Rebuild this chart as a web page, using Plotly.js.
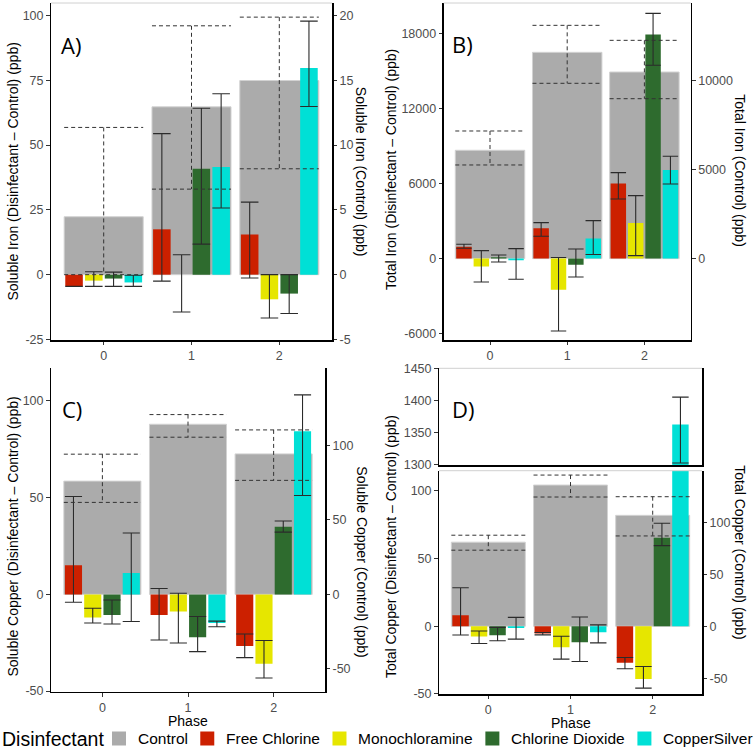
<!DOCTYPE html>
<html><head><meta charset="utf-8">
<script src="https://cdn.plot.ly/plotly-3.0.1.min.js"></script>
<style>html,body{margin:0;padding:0;background:#fff}#chart{width:756px;height:750px}</style>
</head><body><div id="chart"></div>
<script>
// ---------------- DATA ----------------
const phases = [0, 1, 2];
const phaseLabels = ['0', '1', '2'];
const legendTitle = 'Disinfectant';
const controlName = 'Control';
const disinfectants = ['Free Chlorine', 'Monochloramine', 'Chlorine Dioxide', 'CopperSilver'];

// A) Soluble iron — control (ppb) with lower/upper error
const feSolCtrl   = [4.47, 12.95, 14.98];
const feSolCtrlLo = [0.0, 6.6, 8.17];
const feSolCtrlHi = [11.36, 19.2, 19.87];
// A) Soluble iron — disinfectant minus control
const feSolFC   = [-4.5, 17.5, 15.5],  feSolFCLo = [-4.5, -2.5, -1.3],  feSolFCHi = [-4.5, 54.4, 28.0];
const feSolMC   = [-2.3, 0.0, -9.5],   feSolMCLo = [-4.5, -14.4, -16.7], feSolMCHi = [1.1, 7.7, 0.0];
const feSolCD   = [-1.5, 40.9, -7.3],  feSolCDLo = [-4.5, 11.8, -15.0], feSolCDHi = [1.0, 64.2, 0.0];
const feSolCS   = [-3.0, 41.5, 79.7],  feSolCSLo = [-4.5, 25.7, 64.9],  feSolCSHi = [-0.2, 69.8, 97.8];

// B) Total iron — control
const feTotCtrl   = [6076, 11570, 10465];
const feTotCtrlLo = [5252, 9832, 8969];
const feTotCtrlHi = [7158, 13083, 12242];
// B) Total iron — disinfectant minus control
const feTotFC = [960, 2430, 6010],    feTotFCLo = [830, 1790, 4780],   feTotFCHi = [1150, 2885, 6890];
const feTotMC = [-640, -2500, 2860],  feTotMCLo = [-1870, -5800, 240], feTotMCHi = [640, 90, 5050];
const feTotCD = [100, -490, 17960],   feTotCDLo = [-267, -1470, 15490], feTotCDHi = [294, 775, 19650];
const feTotCS = [-140, 1620, 7100],   feTotCSLo = [-1650, 330, 5980],  feTotCSHi = [801, 3045, 8200];

// C) Soluble copper — control
const cuSolCtrl   = [76.1, 114.3, 94.4];
const cuSolCtrlLo = [61.8, 105.6, 76.6];
const cuSolCtrlHi = [94.2, 120.8, 110.5];
// C) Soluble copper — disinfectant minus control
const cuSolFC = [15.1, -10.6, -26.7], cuSolFCLo = [-4.1, -23.6, -32.7], cuSolFCHi = [50.6, 3.0, -20.5];
const cuSolMC = [-11.9, -8.9, -35.8], cuSolMCLo = [-14.8, -25.1, -43.2], cuSolMCHi = [-7.2, 0.6, -23.8];
const cuSolCD = [-10.7, -22.2, 34.9], cuSolCDLo = [-15.3, -29.6, 32.2], cuSolCDHi = [-2.9, -11.4, 37.9];
const cuSolCS = [11.0, -14.8, 84.3],  cuSolCSLo = [-14.0, -16.7, 51.1], cuSolCSHi = [31.7, -13.8, 103.1];

// D) Total copper — control
const cuTotCtrl   = [80.8, 135.7, 106.6];
const cuTotCtrlLo = [73.1, 124.2, 86.8];
const cuTotCtrlHi = [87.5, 145.3, 124.5];
// D) Total copper — disinfectant minus control
const cuTotFC = [8.1, -5.3, -27.0],   cuTotFCLo = [-6.5, -6.4, -31.4],  cuTotFCHi = [28.5, -4.6, -23.1];
const cuTotMC = [-7.5, -15.5, -39.0], cuTotMCLo = [-12.8, -24.3, -45.7], cuTotMCHi = [-3.5, -7.4, -29.7];
const cuTotCD = [-6.7, -11.8, 65.5],  cuTotCDLo = [-10.7, -26.0, 59.6], cuTotCDHi = [-0.8, 6.9, 76.1];
const cuTotCS = [-1.3, -4.4, 1362.9], cuTotCSLo = [-9.5, -12.3, 1303],  cuTotCSHi = [6.6, 1.0, 1405.7];

// ---------------- STYLE / LAYOUT ----------------
const W = 756, H = 750;
const FONT = 'Liberation Sans, Arial, sans-serif';
const colors = ['#CC2000', '#E6E600', '#2E6B2E', '#00E0D6'];
const ctrlColor = '#ABABAB';
const errColor = '#2b2b2b';

function px2x(a, b) { return [a / W, b / W]; }
function px2y(top, bottom) { return [1 - bottom / H, 1 - top / H]; }
function aid(l, n) { return n === 1 ? l : l + n; }
function lkey(l, n) { return n === 1 ? l + 'axis' : l + 'axis' + n; }

const panels = [
  { letter: 'A)', xpx: [51, 332], ypx: [3, 340], range: [-25.2, 104.8], k: 0.2,
    dTicks: [-25, 0, 25, 50, 75, 100], cTicks: [-5, 0, 5, 10, 15, 20],
    ctrl: [feSolCtrl, feSolCtrlLo, feSolCtrlHi],
    series: [[feSolFC, feSolFCLo, feSolFCHi], [feSolMC, feSolMCLo, feSolMCHi], [feSolCD, feSolCDLo, feSolCDHi], [feSolCS, feSolCSLo, feSolCSHi]],
    left: 'Soluble Iron (Disinfectant – Control) (ppb)', right: 'Soluble Iron (Control) (ppb)',
    leftPos: [12.5, 172], rightPos: [361.7, 171.5], letterPos: [59, 44.5], topLine: true, xTitle: null },
  { letter: 'B)', xpx: [443.7, 690.7], ypx: [3, 340], range: [-6520, 20480], k: 0.7,
    dTicks: [-6000, 0, 6000, 12000, 18000], cTicks: [0, 5000, 10000],
    ctrl: [feTotCtrl, feTotCtrlLo, feTotCtrlHi],
    series: [[feTotFC, feTotFCLo, feTotFCHi], [feTotMC, feTotMCLo, feTotMCHi], [feTotCD, feTotCDLo, feTotCDHi], [feTotCS, feTotCSLo, feTotCSHi]],
    left: 'Total Iron (Disinfectant – Control) (ppb)', right: 'Total Iron (Control) (ppb)',
    leftPos: [391, 170], rightPos: [739.7, 171], letterPos: [449.7, 44], topLine: true, xTitle: null },
  { letter: 'C)', xpx: [51, 325], ypx: [368, 691.7], range: [-50.3, 117], k: 1.3,
    dTicks: [-50, 0, 50, 100], cTicks: [-50, 0, 50, 100],
    ctrl: [cuSolCtrl, cuSolCtrlLo, cuSolCtrlHi],
    series: [[cuSolFC, cuSolFCLo, cuSolFCHi], [cuSolMC, cuSolMCLo, cuSolMCHi], [cuSolCD, cuSolCDLo, cuSolCDHi], [cuSolCS, cuSolCSLo, cuSolCSHi]],
    left: 'Soluble Copper (Disinfectant – Control) (ppb)', right: 'Soluble Copper (Control) (ppb)',
    leftPos: [12.5, 537], rightPos: [361.7, 562], letterPos: [59.7, 409], topLine: false, xTitle: [188, 721] },
  { letter: 'D)', xpx: [439, 702], ypx: [470.7, 694.3], range: [-50.3, 115], k: 1.3,
    dTicks: [-50, 0, 50, 100], cTicks: [-50, 0, 50, 100],
    ctrl: [cuTotCtrl, cuTotCtrlLo, cuTotCtrlHi],
    series: [[cuTotFC, cuTotFCLo, cuTotFCHi], [cuTotMC, cuTotMCLo, cuTotMCHi], [cuTotCD, cuTotCDLo, cuTotCDHi], [cuTotCS, cuTotCSLo, cuTotCSHi]],
    left: 'Total Copper (Disinfectant – Control) (ppb)', right: 'Total Copper (Control) (ppb)',
    leftPos: [391, 547], rightPos: [739.7, 552], letterPos: [450.3, 409], topLine: true, xTitle: [570.5, 723] }
];

const traces = [];
const layout = {
  width: W, height: H, margin: { l: 0, r: 0, t: 0, b: 0 }, autosize: false,
  paper_bgcolor: '#fff', plot_bgcolor: 'rgba(0,0,0,0)',
  font: { family: FONT, color: '#000' },
  hovermode: false, barmode: 'overlay', showlegend: false,
  annotations: [], shapes: []
};

const tickFont = { size: 12.5, family: FONT, color: '#4D4D4D' };
const titleFont = { size: 14, family: FONT, color: '#000' };
const axisCommon = { showgrid: false, zeroline: false, showline: true, linecolor: '#000', linewidth: 1.5,
  ticks: 'outside', ticklen: 3.5, tickwidth: 1, tickcolor: '#333', tickfont: tickFont, fixedrange: true };

function addPanelLabels(p) {
  const ann = layout.annotations;
  ann.push({ xref: 'paper', yref: 'paper', x: p.leftPos[0] / W, y: 1 - p.leftPos[1] / H, text: p.left,
    textangle: -90, showarrow: false, xanchor: 'center', yanchor: 'middle', font: titleFont });
  ann.push({ xref: 'paper', yref: 'paper', x: p.rightPos[0] / W, y: 1 - p.rightPos[1] / H, text: p.right,
    textangle: 90, showarrow: false, xanchor: 'center', yanchor: 'middle', font: titleFont });
  ann.push({ xref: 'paper', yref: 'paper', x: p.letterPos[0] / W, y: 1 - p.letterPos[1] / H, text: p.letter,
    showarrow: false, xanchor: 'left', yanchor: 'middle', font: { size: 22, family: 'Open Sans, Noto Sans, sans-serif', color: '#000' } });
  if (p.xTitle) {
    ann.push({ xref: 'paper', yref: 'paper', x: p.xTitle[0] / W, y: 1 - p.xTitle[1] / H, text: 'Phase',
      showarrow: false, xanchor: 'center', yanchor: 'middle', borderpad: 0, font: titleFont });
  }
}

function errBar(vals, lo, hi, halfW) {
  return { type: 'data', symmetric: false,
    array: vals.map((v, i) => hi[i] - v), arrayminus: vals.map((v, i) => v - lo[i]),
    color: errColor, thickness: 1.1, width: halfW };
}

panels.forEach((p, pi) => {
  const xn = pi + 1;
  const nBase = 3 * pi + 1, nDiff = 3 * pi + 2, nDup = 3 * pi + 3;
  const xId = aid('x', xn), yBase = aid('y', nBase), yDiff = aid('y', nDiff), yDup = aid('y', nDup);
  const ctrlRange = [p.range[0] * p.k, p.range[1] * p.k];
  const unit = (p.xpx[1] - p.xpx[0]) / 3.2;
  const halfW = 0.2 * unit / 2;
  const yd = px2y(p.ypx[0], p.ypx[1]);

  layout[lkey('x', xn)] = Object.assign({}, axisCommon, {
    domain: px2x(p.xpx[0], p.xpx[1]), anchor: yBase, range: [-0.6, 2.6],
    tickmode: 'array', tickvals: phases, ticktext: phaseLabels });
  layout[lkey('y', nBase)] = Object.assign({}, axisCommon, {
    domain: yd, anchor: xId, side: 'right', range: ctrlRange,
    tickmode: 'array', tickvals: p.cTicks, ticktext: p.cTicks.map(String) });
  layout[lkey('y', nDiff)] = Object.assign({}, axisCommon, {
    overlaying: yBase, anchor: xId, side: 'left', range: p.range,
    tickmode: 'array', tickvals: p.dTicks, ticktext: p.dTicks.map(String) });
  layout[lkey('y', nDup)] = { overlaying: yBase, anchor: xId, range: ctrlRange, visible: false, fixedrange: true };

  // Control bars (right axis)
  traces.push({ type: 'bar', name: controlName, x: phases, y: p.ctrl[0], xaxis: xId, yaxis: yBase,
    offset: -0.45, width: 0.9, marker: { color: ctrlColor, line: { color: '#d2d2d2', width: 1 } } });

  // Disinfectant bars (left axis)
  p.series.forEach((s, si) => {
    traces.push({ type: 'bar', name: disinfectants[si], x: phases, y: s[0], xaxis: xId, yaxis: yDiff,
      offset: -0.45 + 0.225 * si + 0.0125, width: 0.2,
      marker: { color: colors[si], line: { width: 0 } },
      error_y: errBar(s[0], s[1], s[2], halfW) });
  });

  // Control dashed error bars
  const ex = [], ey = [];
  phases.forEach((ph, i) => {
    const lo = p.ctrl[1][i], hi = p.ctrl[2][i];
    ex.push(ph - 0.45, ph + 0.45, null, ph, ph, null, ph - 0.45, ph + 0.45, null);
    ey.push(hi, hi, null, hi, lo, null, lo, lo, null);
  });
  traces.push({ type: 'scatter', mode: 'lines', x: ex, y: ey, xaxis: xId, yaxis: yDup,
    line: { color: '#333', width: 1, dash: '4px,3px' }, connectgaps: false });

  if (p.topLine) {
    layout.shapes.push({ type: 'line', xref: 'paper', yref: 'paper',
      x0: p.xpx[0] / W, x1: p.xpx[1] / W, y0: yd[1], y1: yd[1], line: { color: '#d0d0d0', width: 1 } });
  }
  addPanelLabels(p);

  // D) broken axis: upper segment
  if (pi === 3) {
    const ux = 'x5', uy = 'y13';
    const uyd = px2y(368.3, 465.3);
    layout.xaxis5 = Object.assign({}, axisCommon, { domain: px2x(p.xpx[0], p.xpx[1]), anchor: uy, range: [-0.6, 2.6],
      showticklabels: false, ticks: '' });
    layout.yaxis13 = Object.assign({}, axisCommon, { domain: uyd, anchor: ux, side: 'left', range: [1299.5, 1450.5],
      mirror: true, tickmode: 'array', tickvals: [1300, 1350, 1400, 1450], ticktext: ['1300', '1350', '1400', '1450'] });
    p.series.forEach((s, si) => {
      traces.push({ type: 'bar', name: disinfectants[si], x: phases, y: s[0], xaxis: ux, yaxis: uy,
        offset: -0.45 + 0.225 * si + 0.0125, width: 0.2, marker: { color: colors[si] },
        error_y: errBar(s[0], s[1], s[2], halfW) });
    });
    layout.shapes.push({ type: 'line', xref: 'paper', yref: 'paper',
      x0: p.xpx[0] / W, x1: p.xpx[1] / W, y0: uyd[1], y1: uyd[1], line: { color: '#d0d0d0', width: 1 } });
  }
});

// ---------------- LEGEND (keys + labels, laid out from measured text widths) ----------------
const legY = 738.5;         // row centre (px)
const legStart = 112, legEnd = 752;
const legKeySize = 14, legKeyGap = 11;
const legNames = [controlName].concat(disinfectants);
const legColors = [ctrlColor].concat(colors);
let legFont = 15.5;
const ctx = document.createElement('canvas').getContext('2d');
function textW(t, size) { ctx.font = size + 'px "Liberation Sans", Arial, sans-serif'; return ctx.measureText(t).width; }
let widths, gap;
for (;;) {
  widths = legNames.map(n => textW(n, legFont));
  const tot = widths.reduce((a, b) => a + b, 0);
  gap = (legEnd - legStart - legNames.length * (legKeySize + legKeyGap) - tot) / (legNames.length - 1);
  if (gap >= 12 || legFont <= 11) break;
  legFont -= 0.25;
}
layout.annotations.push({ xref: 'paper', yref: 'paper', x: 0.5 / W, y: 1 - legY / H, text: legendTitle,
  showarrow: false, xanchor: 'left', yanchor: 'middle', borderpad: 0, font: { size: 19.5, family: FONT, color: '#000' } });
let lx = legStart;
legNames.forEach((nm, i) => {
  layout.shapes.push({ type: 'rect', xref: 'paper', yref: 'paper',
    x0: lx / W, x1: (lx + legKeySize) / W, y0: 1 - (legY + legKeySize / 2) / H, y1: 1 - (legY - legKeySize / 2) / H,
    fillcolor: legColors[i], line: { width: 0 } });
  layout.annotations.push({ xref: 'paper', yref: 'paper', x: (lx + legKeySize + legKeyGap) / W, y: 1 - legY / H, text: nm,
    showarrow: false, xanchor: 'left', yanchor: 'middle', borderpad: 0, font: { size: legFont, family: FONT, color: '#000' } });
  lx += legKeySize + legKeyGap + widths[i] + gap;
});

Plotly.newPlot('chart', traces, layout, { staticPlot: true, displayModeBar: false });
</script>
</body></html>
